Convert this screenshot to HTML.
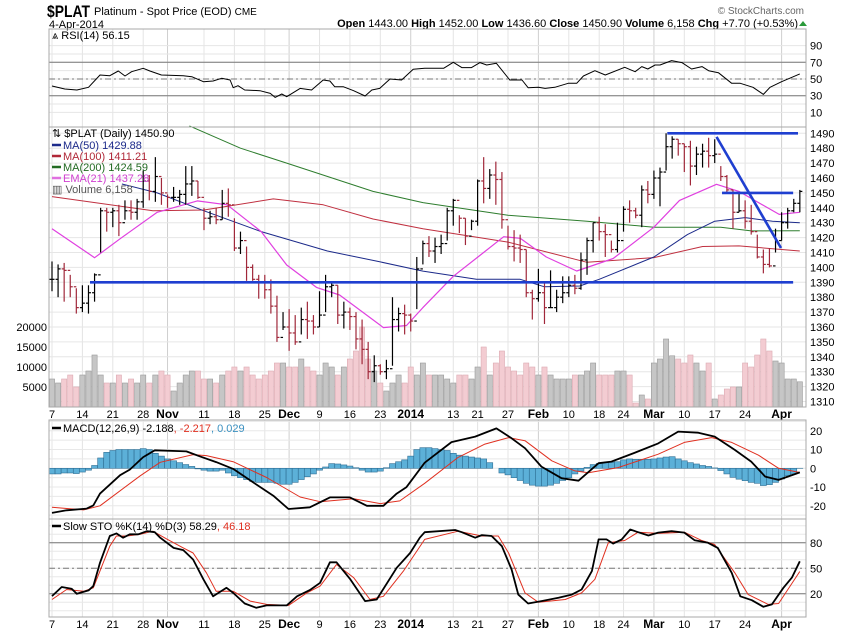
<!DOCTYPE html>
<html><head><meta charset="utf-8">
<style>
body{margin:0;background:#fff;width:850px;height:633px;overflow:hidden;font-family:"Liberation Sans",sans-serif}
svg{display:block}
text{font-family:"Liberation Sans",sans-serif}
</style></head>
<body>
<svg id="c" width="850" height="633" xmlns="http://www.w3.org/2000/svg">
<g id="hdr">
<text x="47" y="17" font-size="17" font-weight="bold" textLength="43" lengthAdjust="spacingAndGlyphs">$PLAT</text>
<text x="94" y="15" font-size="11">Platinum  - Spot Price (EOD) <tspan font-size="10">CME</tspan></text>
<text x="49" y="28" font-size="11">4-Apr-2014</text>
<text x="804" y="14" font-size="10" fill="#666" text-anchor="end">© StockCharts.com</text>
<text x="798" y="27" font-size="11" text-anchor="end"><tspan font-weight="bold">Open</tspan> 1443.00 <tspan font-weight="bold">High</tspan> 1452.00 <tspan font-weight="bold">Low</tspan> 1436.60 <tspan font-weight="bold">Close</tspan> 1450.90 <tspan font-weight="bold">Volume</tspan> 6,158 <tspan font-weight="bold">Chg</tspan> +7.70 (+0.53%)</text>
<path d="M799 26 L803 21 L807 26 Z" fill="#2a9a3a"/>
</g>
<g id="grid"></g>
<g id="marks"></g>
<g id="frames"></g>
</svg>
<script>
// ===== data =====
const closes=[1392,1399,1398,1387,1373,1376,1383,1395,1438,1437,1438,1430,1438,1437,1444,1458,1451,1461,1450,1447,1447,1449,1456,1458,1447,1433,1434,1432,1443,1442,1413,1418,1400,1392,1390,1385,1374,1353,1360,1356,1350,1365,1364,1360,1368,1387,1388,1368,1370,1367,1352,1345,1330,1334,1330,1332,1365,1369,1368,1364,1399,1416,1411,1414,1416,1438,1445,1433,1421,1431,1458,1453,1462,1459,1432,1414,1413,1412,1383,1379,1383,1373,1373,1380,1383,1388,1386,1405,1418,1430,1424,1422,1412,1418,1439,1438,1435,1452,1449,1460,1464,1481,1486,1483,1481,1468,1476,1478,1475,1476,1461,1452,1437,1438,1431,1424,1407,1402,1401,1418,1430,1438,1443,1451];
const highs=[1404,1402,1403,1395,1386,1388,1388,1396,1440,1440,1440,1442,1445,1445,1446,1465,1462,1474,1460,1449,1454,1452,1468,1468,1458,1440,1438,1440,1452,1453,1433,1424,1414,1402,1395,1395,1392,1381,1370,1372,1368,1373,1377,1368,1384,1395,1390,1388,1377,1373,1370,1365,1350,1341,1335,1338,1380,1373,1375,1369,1407,1418,1421,1420,1422,1440,1446,1435,1433,1432,1459,1474,1466,1471,1464,1428,1425,1422,1412,1385,1399,1390,1398,1385,1394,1394,1395,1410,1420,1430,1434,1429,1418,1430,1441,1445,1440,1455,1458,1465,1467,1490,1488,1486,1483,1485,1481,1483,1487,1486,1468,1462,1452,1450,1445,1442,1422,1412,1413,1426,1437,1440,1446,1452];
const lows=[1384,1380,1377,1380,1369,1370,1369,1377,1410,1424,1427,1421,1432,1432,1432,1440,1445,1444,1442,1440,1444,1442,1442,1448,1446,1425,1429,1429,1432,1434,1411,1409,1391,1391,1379,1379,1369,1350,1358,1344,1348,1355,1352,1355,1360,1370,1380,1362,1359,1358,1345,1335,1325,1323,1328,1325,1334,1357,1355,1357,1372,1402,1407,1403,1409,1418,1428,1423,1415,1425,1428,1443,1446,1442,1426,1412,1404,1403,1380,1365,1377,1362,1373,1370,1376,1380,1382,1385,1395,1410,1418,1407,1410,1410,1424,1430,1433,1427,1443,1446,1441,1465,1473,1475,1464,1455,1462,1467,1467,1470,1458,1450,1426,1437,1426,1422,1406,1396,1400,1410,1418,1426,1437,1437];
const volumes=[7,6,7,8,5,8,9,13,8,6,6,8,6,7,6,8,6,8,9,8,4,6,8,9,9,7,7,6,8,9,10,9,10,8,7,8,9,11,11,10,10,12,10,9,8,11,10,8,10,12,14,20,12,9,6,4,6,8,6,10,8,11,8,8,8,7,6,8,8,7,10,15,8,11,14,10,9,8,11,10,8,10,8,7,7,7,8,8,9,11,8,8,8,9,9,8,1,3,2,11,12,17,12.8,12,11,13,11,9,11,2,3,4.5,5,5,11,10,13,17,14,11.5,11,7,7,6.3];
const dateLabels=["7","14","21","28","Nov","11","18","25","Dec","9","16","23","2014","13","21","27","Feb","10","18","24","Mar","10","17","24","Apr"];
const dateIdx=[0,5,10,15,19,25,30,35,39,44,49,54,59,66,70,75,80,85,90,94,99,104,109,114,120];
const boldLabels=["Nov","Dec","2014","Feb","Mar","Apr"];
const priceTicks=[1310,1320,1330,1340,1350,1360,1370,1380,1390,1400,1410,1420,1430,1440,1450,1460,1470,1480,1490];
const volTicks=[5000,10000,15000,20000];
const ma50Idx=[11.5,17.3,25,34.4,45.3,53.6,61,69.8,77,81,86.8,90,99,104.5,109,114,118.5,123];
const ma50Val=[1456,1450,1438,1424,1411,1404,1397.5,1392,1392,1387,1387.5,1392,1407,1422,1431,1433.4,1431,1430];
const ma100Idx=[0,16.6,25,36.4,44.6,52.8,61,75,88,99,107,113,123];
const ma100Val=[1447.5,1438,1438.5,1446,1442,1432.5,1426,1417,1403.4,1406.6,1414,1414.4,1411];
const ma200Idx=[22.6,31,38.6,52.8,61,75,88,99,110,115,123];
const ma200Val=[1495,1480,1470,1451,1443.5,1435,1431,1427,1427,1424.5,1424.6];
const emaIdx=[0,7,11.3,17.3,23.9,28.8,34.4,38.6,43.5,47.3,54.5,58.3,61,66,70.5,74.3,77,81.3,86.3,92.3,99,103.2,109.3,113,119.6,123];
const emaVal=[1426,1406.5,1419.5,1437,1444.6,1442,1424,1401.6,1386.6,1381.5,1359.6,1361,1373,1394,1408.4,1420.6,1419.5,1407,1397.6,1406,1427,1445,1455.8,1451,1435.6,1437];
const trendFromIdx=[6.25,101.2,110.2,109.3];
const trendFromVal=[1390,1490,1450,1487.6];
const trendToIdx=[121.9,122.7,121.9,119.9];
const trendToVal=[1390,1490,1450,1413];
const rsiTicks=[10,30,50,70,90];
const rsiIdx=[0,2.1,4.1,6,7.9,9.5,10.9,12,13.1,15,16.1,18,21.6,23,24.9,26.5,27.9,29.3,29.8,30.6,31.7,34.2,35.9,36.7,37.8,38.6,40.8,42.7,44.6,45.7,46.5,47.9,49.6,51.5,52.6,53.9,55.6,57.5,59.4,61.3,64.4,66,67.4,69,70.4,71.5,73.1,75.3,77.3,78.3,80,81.1,82.7,84.9,86.3,87.4,89.3,91,94.2,95.9,97,98,99.2,100,101.9,103.6,105.2,106.9,108,109.6,111.8,113.2,115.3,117,118.1,120,121.7,123];
const rsiVal=[41.6,38,36.8,40,54.8,54,59.6,53.6,58.8,62.8,59.6,54.8,54,52.8,46.8,47.6,50.8,48.8,39.6,42,36.8,36,32.8,28,32,28.8,38.8,36.8,48.8,47.6,40.8,40.8,36,29.6,36.8,38.8,50,48.8,61.6,62.8,62.8,70,63.6,63.6,69.6,66.8,68.8,48.8,48.8,39.6,40,38.8,40,44.8,44.8,53.6,60,54.8,64,58.8,64.8,62,66.8,66.8,72,69.6,62,64.8,60,57.6,44.8,44.8,40,31.6,40,46.8,52,56.15];
const macdTicks=[-20,-10,0,10,20];
const macdIdx=[0,2.4,5.7,6.8,7.9,11.2,12.8,15,16.9,21,22.1,24.3,27,29.8,33.1,36.4,38.9,42.4,45.7,49,51.8,54.5,56.7,58.3,61.3,65.7,69.6,73.1,75.6,77.8,80.5,83.8,86.6,89.9,92,95.9,99.7,103,106.3,109,112.3,115,117.3,119.5,123];
const macdVal=[-23.8,-22.4,-21.5,-19.8,-13.5,-3.7,-0.7,6,9.6,9.2,9,6.4,3.3,-0.3,-7.5,-14.6,-21.7,-20.8,-15.5,-15.5,-20,-20,-13.5,-10,3,14,16.9,21.3,16,10.7,0.9,-5.3,-6.6,2.7,3.6,8.4,13.3,19.6,19,16.9,9.8,3.6,-4.4,-6.2,-2.188];
const signalIdx=[0,5.2,7.9,14.5,17.8,23.2,25.4,29.8,35.3,40.8,44.1,49.6,54,57.2,61.3,66.8,71.2,75.1,77.8,82.2,86,88.2,93.1,99.7,104,108.5,111.8,116.2,119.5,123];
const signalVal=[-20.8,-22.2,-20,-4,3.2,7.3,6.8,3.5,-4.9,-15.3,-17.8,-16.2,-18.8,-17.4,-8,5.8,12.9,16.4,14.7,4,-1.4,-2.4,0.4,7.5,13.8,16.4,13.8,7,0,-2.217];
const histVal=[-3,-3,-2.5,-2.5,-2.8,-2,-1,1.5,5.5,8.5,9.5,10,10,10,10,10.5,10,8,6.5,5,4,3,2,1,-0.3,-1,-1.5,-1.5,-1,-2.5,-4,-5,-6,-7,-7.5,-7.5,-7.5,-8,-8.5,-8.5,-7.5,-6,-4.5,-3,-1,0.7,2.5,2.3,1.8,1.2,0.3,-1,-2,-2,-1.5,0.3,2.5,3.5,4.5,6.5,10,11,11,10.5,10,9.5,8,7,6.5,6,5.5,5,3,0,-2.5,-3.5,-5,-6.5,-8,-9,-9.5,-9.5,-9,-8,-6.5,-5,-3,-1.5,0.5,2,2.6,3,3.2,3.5,4.5,5,4.8,4.8,4.8,5,5.5,6,6.2,5,4,3,2.3,1.5,1,0.2,-1.2,-3,-4.8,-5.8,-6.6,-7.5,-8,-9.2,-8.7,-7.5,-5.7,-4,-3,0.029];
const stoTicks=[20,50,80];
const kIdx=[0,1.6,3.2,4.1,6,6.8,7.9,9.5,10.6,11.7,12.8,14.2,15.6,16.9,17.8,20,21.6,23.2,24.9,26.5,28.7,29.8,31.7,33.6,35.3,38.6,40.3,42.4,44.1,45.7,46.8,49,51.5,53.4,56.7,58.9,60.5,61.3,66.3,67.4,69.6,70.7,72.3,74,75.6,76.7,78.3,80.5,83.3,85.5,87.1,88.8,89.9,91.2,92.3,93.7,95.1,96.4,98.1,99.7,101.9,104,105.7,107.9,109.5,111.8,113.2,115.1,117,118.4,120.3,121.7,123];
const kVal=[17.3,28,26,20,24,29,56.5,88,91,86,90,90,93.7,92.5,86,74,71.4,60.4,37,17,27,21,8.6,3.5,6.3,6.3,17,24.3,33,57,57,37.6,11.4,13.3,50.6,68,86,92.5,95,92.5,86,89,88,76,48.6,19,8.6,11.4,15.3,19,25,46.7,84,84,79,84,95.7,92.5,88.6,92,93.7,92,83,80,74,44.7,17,12.5,4.7,7.5,27,39,58.29];
const dIdx=[0,2.4,5.2,6.8,9.5,10.6,12.3,14.5,16.6,19,21.6,23.2,25.4,27,29.8,32.6,35.3,38.9,41.9,44.1,46.8,49.6,52.3,54.5,57.8,61.3,66.8,70.7,73.4,75.1,77.8,80,84.4,87.1,89.3,91.5,94.2,96.4,99.7,104,106.8,109,112.3,114.5,117.8,119.5,123];
const dVal=[13.3,25,23,27,76,88,88,90,93.7,84,74,68,44.7,23,23,11.4,7.5,6.3,21,29,54.5,39,13.3,17,46.7,84,93.7,88,88,68,21,10,13.3,21,37,80,82.7,92.5,91,92.5,83,78,44.7,19,7.5,8.6,46.18];

// ===== geometry =====
const NS="http://www.w3.org/2000/svg";
const L=49,R=806;
const X=i=>52+i*6.08;
const yP=v=>133.3+(1490-v)*1.49;
const yV=v=>407-v*4;
const yR=v=>79-(v-50)*0.835;
const yM=v=>468.3-v*1.875;
const yS=v=>568.3-(v-50)*0.85;
const P={rsi:[29,127],price:[127,407],macd:[420,519],sto:[519,617]};
const G=document.getElementById('grid'),M=document.getElementById('marks'),F=document.getElementById('frames');
function el(tag,attrs,parent){const e=document.createElementNS(NS,tag);for(const k in attrs)e.setAttribute(k,attrs[k]);parent.appendChild(e);return e;}
function txt(x,y,s,attrs,parent){const t=el('text',Object.assign({x:x,y:y,'font-size':11},attrs),parent);t.textContent=s;return t;}

// vertical grid
for(const k in P){for(let j=0;j<dateIdx.length;j++){
  const ln=el('line',{x1:X(dateIdx[j]),x2:X(dateIdx[j]),y1:P[k][0],y2:P[k][1],stroke:(boldLabels.includes(dateLabels[j])?'#cfcfcf':'#e4e4e4'),'stroke-width':1},G);
  
  
}}
// horizontal grids
for(const v of priceTicks){const ln=el('line',{x1:L,x2:R,y1:yP(v),y2:yP(v),stroke:'#e6e6e6'},G);
  
  const t=txt(810,yP(v)+4,String(v),{},G);}
for(const v of [10,20,30,40,50,60,70,80,90]){const ln=el('line',{x1:L,x2:R,y1:yR(v),y2:yR(v),stroke:'#e6e6e6'},G);
  }
for(const v of rsiTicks){const t=txt(810,yR(v)+4,String(v),{},G);}
for(const v of [70,30]){const ln=el('line',{x1:L,x2:R,y1:yR(v),y2:yR(v),stroke:'#777'},G);}
{const ln=el('line',{x1:L,x2:R,y1:yR(50),y2:yR(50),stroke:'#777','stroke-dasharray':'6,3,2,3'},G);}
for(let v=-25;v<=25;v+=5){const ln=el('line',{x1:L,x2:R,y1:yM(v),y2:yM(v),stroke:'#e8e8e8'},G);}
for(const v of macdTicks){const t=txt(810,yM(v)+4,String(v),{},G);}
for(let v=0;v<=100;v+=10){const ln=el('line',{x1:L,x2:R,y1:yS(v),y2:yS(v),stroke:'#e8e8e8'},G);}
for(const v of [80,20]){const ln=el('line',{x1:L,x2:R,y1:yS(v),y2:yS(v),stroke:'#777'},G);}
{const ln=el('line',{x1:L,x2:R,y1:yS(50),y2:yS(50),stroke:'#777','stroke-dasharray':'6,3,2,3'},G);}
for(const v of stoTicks){const t=txt(810,yS(v)+4,String(v),{},G);}
for(const v of volTicks){const t=txt(47,yV(v/1000)+4,String(v),{'text-anchor':'end'},G);}

// date labels
for(const y of [418,628]){for(let j=0;j<dateLabels.length;j++){
  const b=boldLabels.includes(dateLabels[j]);
  const t=txt(X(dateIdx[j]),y,dateLabels[j],{'text-anchor':'middle','font-weight':b?'bold':'normal','font-size':b?12:11},G);
  
}}

// volume
for(let i=0;i<volumes.length;i++){
  const up=i===0||closes[i]>=closes[i-1];
  const r=el('rect',{x:X(i)-2.6,y:yV(volumes[i]),width:5.2,height:407-yV(volumes[i]),fill:up?'#c6c6c6':'#f3ccd2',stroke:up?'#9a9a9a':'#dcaab2','stroke-width':0.6},M);
  
}
function poly(idx,val,yf,color,w,name){
  const pts=idx.map((d,k)=>X(d).toFixed(1)+','+yf(val[k]).toFixed(1)).join(' ');
  const p=el('polyline',{points:pts,fill:'none',stroke:color,'stroke-width':w,'stroke-linejoin':'round'},M);
  
}
poly(ma200Idx,ma200Val,yP,'#2e7d2e',1,'ma200-line');
poly(ma100Idx,ma100Val,yP,'#c03040',1,'ma100-line');
poly(ma50Idx,ma50Val,yP,'#1c2a8a',1,'ma50-line');
poly(emaIdx,emaVal,yP,'#e040e0',1.2,'ema21-line');
// OHLC
for(let i=0;i<closes.length;i++){
  const up=i===0||closes[i]>=closes[i-1];
  const c=up?'#000':'#a0283a';
  const g=el('g',{stroke:c,'stroke-width':1.2},M);
  
  el('line',{x1:X(i),x2:X(i),y1:yP(highs[i]),y2:yP(lows[i])},g);
  const op=i===0?closes[0]:closes[i-1];
  el('line',{x1:X(i)-2.5,x2:X(i),y1:yP(op),y2:yP(op)},g);
  el('line',{x1:X(i),x2:X(i)+2.5,y1:yP(closes[i]),y2:yP(closes[i])},g);
}
// trend lines
for(let k=0;k<trendFromIdx.length;k++){
  const ln=el('line',{x1:X(trendFromIdx[k]),y1:yP(trendFromVal[k]),x2:X(trendToIdx[k]),y2:yP(trendToVal[k]),stroke:'#1f3fd0','stroke-width':2.6},M);
  
}
// RSI
poly(rsiIdx,rsiVal,yR,'#000',1,'rsi-line');
// MACD hist
for(let i=0;i<histVal.length;i++){
  const y0=yM(0),y1=yM(histVal[i]);
  const r=el('rect',{x:X(i)-3,y:Math.min(y0,y1),width:6,height:Math.abs(y1-y0),fill:'#5cb0d8',stroke:'#2f6f95','stroke-width':0.6},M);
  
}
poly(signalIdx,signalVal,yM,'#e03020',1,'macd-signal-line');
poly(macdIdx,macdVal,yM,'#000',1.8,'macd-line');
// STO
poly(dIdx,dVal,yS,'#e03020',1,'sto-d-line');
poly(kIdx,kVal,yS,'#000',1.8,'sto-k-line');

// frames
for(const k in P){const r=el('rect',{x:L,y:P[k][0],width:R-L,height:P[k][1]-P[k][0],fill:'none',stroke:'#a8a8a8'},F);
  }

// legends
function leg(x,y,s,color,name,sw){
  if(sw){const ln=el('line',{x1:x,x2:x+9,y1:y-4,y2:y-4,stroke:sw,'stroke-width':2.5},F);x+=11;}
  const t=txt(x,y,s,{fill:color},F);return t;
}
leg(52,39,'⩓ RSI(14) 56.15','#000','rsi-legend');
leg(52,137,'⇅ $PLAT (Daily) 1450.90','#000','price-legend');
leg(52,149,'MA(50) 1429.88','#1c2a8a','ma50-legend','#1c2a8a');
leg(52,160,'MA(100) 1411.21','#b02838','ma100-legend','#b02838');
leg(52,171,'MA(200) 1424.59','#236b23','ma200-legend','#236b23');
leg(52,182,'EMA(21) 1437.28','#d040d0','ema21-legend','#e070e0');
leg(52,193,'▥ Volume 6,158','#555','volume-legend');
{const t=leg(52,432,'MACD(12,26,9) -2.188','#000','macd-legend','#000');
 const a=el('tspan',{fill:'#e03020'},t);a.textContent=', -2.217';const b=el('tspan',{fill:'#3a90c0'},t);b.textContent=', 0.029';}
{const t=leg(52,530,'Slow STO %K(14) %D(3) 58.29','#000','sto-legend','#000');
 const a=el('tspan',{fill:'#e03020'},t);a.textContent=', 46.18';}
</script>
</body></html>
